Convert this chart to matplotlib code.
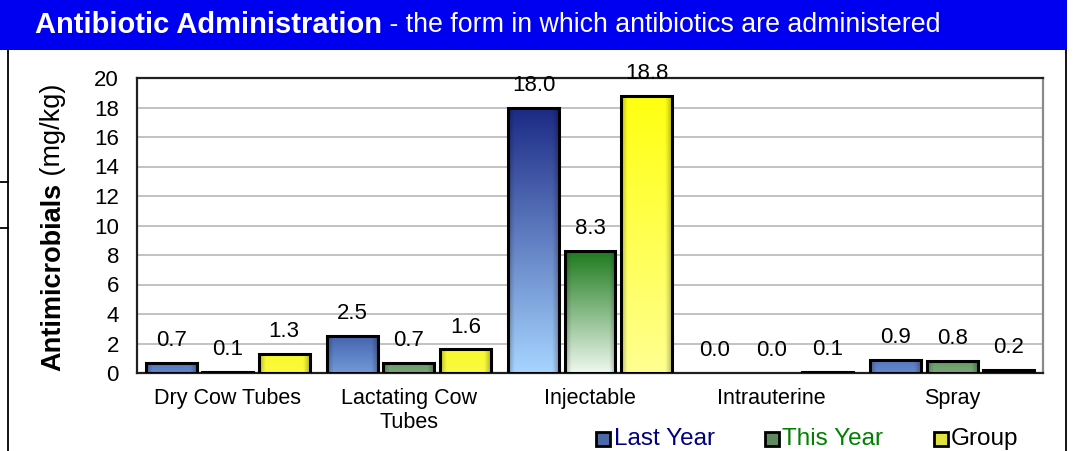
import matplotlib
matplotlib.use('Agg')
import matplotlib.pyplot as plt
import numpy as np
from matplotlib.patches import Rectangle
from matplotlib.lines import Line2D
from matplotlib.colors import to_rgb

categories = ["Dry Cow Tubes", "Lactating Cow\nTubes", "Injectable", "Intrauterine", "Spray"]
last_year = [0.7, 2.5, 18.0, 0.0, 0.9]
this_year = [0.1, 0.7, 8.3, 0.0, 0.8]
group = [1.3, 1.6, 18.8, 0.1, 0.2]
series_names = ["Last Year", "This Year", "Group"]
yticks = [0, 2, 4, 6, 8, 10, 12, 14, 16, 18, 20]

plt.rcParams['font.family'] = ['Liberation Sans', 'DejaVu Sans']

W, H = 1075, 451
fig = plt.figure(figsize=(W / 100, H / 100), dpi=100)
fig.patch.set_facecolor('white')


def fx(px):
    return px / W


def fy(py):
    return 1 - py / H


ax = fig.add_axes([fx(137), fy(373), (1043 - 137) / W, (373 - 78) / H])

# gradient styles: (top, mid, bottom)
styles = [
    ('#1c2a85', '#5b7fc4', '#a6d4ff'),
    ('#1d7a1d', '#6e9e6e', '#eef8ee'),
    ('#ffff10', '#f8f830', '#ffff90'),
]
legend_colors = ['#4a6aa8', '#5f8a5f', '#e0e040']
text_colors = ['#000080', '#008000', '#000000']

x = np.arange(len(categories))
w = 0.281
off = 0.312


def grad_image(top, mid, bottom, s, n=80, m=40):
    top, mid, bottom = (np.array(to_rgb(c)) for c in (top, mid, bottom))
    top = mid + (top - mid) * s
    bottom = mid + (bottom - mid) * s
    t = np.linspace(0, 1, n)[:, None, None]
    col = top[None, None, :] * (1 - t) + bottom[None, None, :] * t
    col = np.repeat(col, m, axis=1)
    u = np.linspace(0, 1, m)
    edge = np.clip(np.minimum(u, 1 - u) / 0.12, 0, 1)
    fac = 0.75 + 0.25 * edge
    col = col * fac[None, :, None]
    return np.clip(col, 0, 1)


all_series = [last_year, this_year, group]
for i, vals in enumerate(all_series):
    xs = x + (i - 1) * off
    lws = [0 if v == 0 else 2.2 for v in vals]
    bars = ax.bar(xs, vals, w, facecolor='none', edgecolor='black',
                  linewidth=lws, zorder=4)
    for b, v in zip(bars, vals):
        if v <= 0:
            continue
        s = min(1.0, v / 8.0)
        img = grad_image(*styles[i], s)
        im = ax.imshow(img, extent=[b.get_x(), b.get_x() + b.get_width(), 0, v],
                       aspect='auto', origin='upper', zorder=3, interpolation='bilinear')
        im.set_clip_path(b)
    for xp, v in zip(xs, vals):
        ax.annotate(f"{v:.1f}", (xp, v), xytext=(0, 16), textcoords='offset points',
                    ha='center', va='center', fontsize=16, color='black',
                    annotation_clip=False, zorder=5)

ax.set_xlim(-0.5, len(categories) - 0.5)
ax.set_ylim(0, 20)
ax.set_yticks(yticks)
ax.set_xticks(x)
ax.set_xticklabels(categories, fontsize=15.5)
ax.tick_params(axis='y', length=0, pad=13, labelsize=16)
ax.tick_params(axis='x', length=0, pad=11)
ax.yaxis.grid(True, color='#b8b8b8', linewidth=1.2)
ax.set_axisbelow(True)
for side in ['top', 'left', 'bottom']:
    ax.spines[side].set_color('#202020')
    ax.spines[side].set_linewidth(1.6)
ax.spines['right'].set_color('#8a8a8a')
ax.spines['right'].set_linewidth(1.6)
ax.set_facecolor('white')

# header bar
fig.add_artist(Rectangle((0, fy(50)), fx(1067), 50 / H, transform=fig.transFigure,
                         facecolor='#0000f0', edgecolor='none', zorder=0))
# border lines
for xx in (8, 1066):
    fig.add_artist(Line2D([fx(xx), fx(xx)], [0, fy(50)], color='black', lw=1.3,
                          transform=fig.transFigure))
for yy in (182, 228):
    fig.add_artist(Line2D([0, fx(8)], [fy(yy), fy(yy)], color='black', lw=1.3,
                          transform=fig.transFigure))

t1 = fig.text(fx(35), fy(25), "Antibiotic Administration", color='white',
              fontsize=21, fontweight='bold', ha='left', va='center')
ylab1 = fig.text(fx(53), fy(371), "Antimicrobials", fontsize=19.5, fontweight='bold',
                 rotation=90, rotation_mode='anchor', ha='left', va='center')

fig.canvas.draw()
r = fig.canvas.get_renderer()
bb = t1.get_window_extent(r)
fig.text(bb.x1 / W, fy(25), " - the form in which antibiotics are administered",
         color='white', fontsize=19.3, ha='left', va='center')
bb2 = ylab1.get_window_extent(r)
fig.text(fx(53), bb2.y1 / H, " (mg/kg)", fontsize=19.5, rotation=90,
         rotation_mode='anchor', ha='left', va='center')

# legend
mx = [596, 765, 934]
tx = [614, 782, 951]
for i, name in enumerate(series_names):
    fig.add_artist(Rectangle((fx(mx[i]), fy(446)), 14 / W, 14 / H,
                             transform=fig.transFigure, facecolor=legend_colors[i],
                             edgecolor='black', lw=2.0))
    fig.text(fx(tx[i]), fy(439), name, color=text_colors[i], fontsize=17.5,
             ha='left', va='center')

fig.savefig('out.png', dpi=100)
